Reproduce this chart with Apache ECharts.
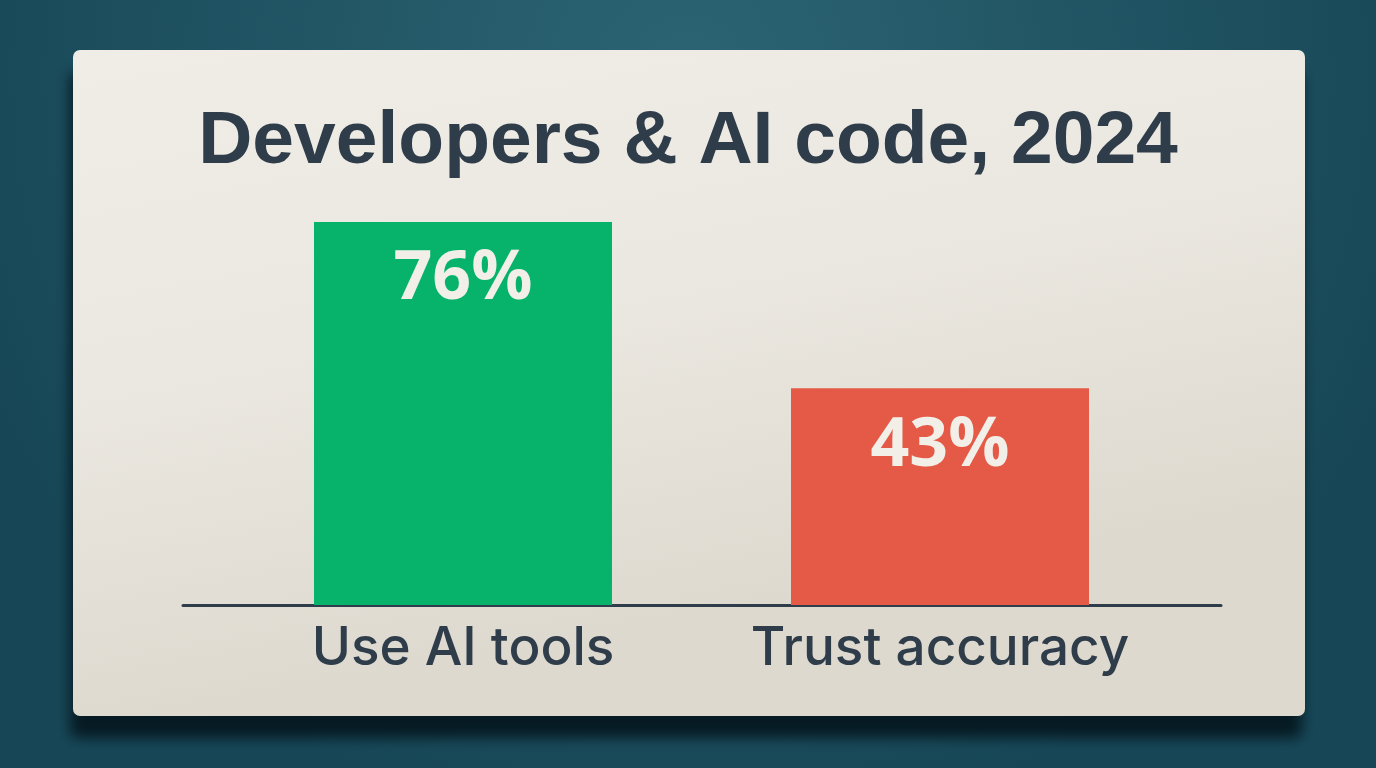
<!DOCTYPE html>
<html>
<head>
<meta charset="utf-8">
<script src="https://cdn.jsdelivr.net/npm/echarts@6/dist/echarts.min.js"></script>
<style>
html,body{margin:0;padding:0;width:1376px;height:768px;overflow:hidden;}
#chart{width:1376px;height:768px;}
</style>
</head>
<body>
<div id="chart"></div>
<script>
const titleText = "Developers & AI code, 2024";
const categories = ["Use AI tools", "Trust accuracy"];
const values = [76, 43];
const barColors = ["#07b36b", "#e55a47"];

const chart = echarts.init(document.getElementById('chart'), null, {renderer: 'canvas'});
const option = {
  animation: false,
  backgroundColor: {
    type: 'radial', x: 0.5, y: 0.1, r: 1.0,
    colorStops: [{offset: 0, color: '#2c6473'}, {offset: 1, color: '#174757'}]
  },
  graphic: [{
    type: 'rect', z: -10, silent: true,
    shape: {x: 73, y: 50, width: 1232, height: 666, r: 7},
    style: {
      fill: {type: 'linear', x: 0, y: 0, x2: 0.1, y2: 1,
        colorStops: [{offset: 0, color: '#f0ede7'}, {offset: 0.5, color: '#ebe8e1'}, {offset: 1, color: '#ddd9cf'}]},
      shadowBlur: 14, shadowOffsetY: 22, shadowOffsetX: -3, shadowColor: 'rgba(4,22,30,0.92)'
    }
  }],
  title: {
    text: titleText, left: 'center', top: 100,
    textStyle: {fontFamily: 'Liberation Sans', fontWeight: 'bold', fontSize: 75, color: '#2f3d4b'}
  },
  grid: [
    {left: 224.5, right: 197.5, top: 101, bottom: 163},
    {left: 183, right: 155, top: 101, bottom: 163}
  ],
  xAxis: [
    {type: 'category', gridIndex: 0, data: categories,
     axisLine: {show: false}, axisTick: {show: false},
     axisLabel: {interval: 0, hideOverlap: false, margin: 18, fontFamily: 'Inter', fontWeight: 500, fontSize: 53, color: '#2f3d4b'}},
    {type: 'value', gridIndex: 1, min: 0, max: 1,
     axisLine: {show: true, lineStyle: {color: '#2f3d4b', width: 3}},
     axisTick: {show: false}, axisLabel: {show: false}, splitLine: {show: false}}
  ],
  yAxis: [
    {type: 'value', gridIndex: 0, min: 0, max: 100, show: false},
    {type: 'value', gridIndex: 1, min: 0, max: 100, show: false}
  ],
  series: [{
    type: 'bar', xAxisIndex: 0, yAxisIndex: 0,
    barWidth: 298,
    data: values.map((v, i) => ({value: v, itemStyle: {color: barColors[i]}})),
    label: {
      show: true, position: 'insideTop', distance: 24,
      formatter: '{c}%',
      fontFamily: 'Open Sans', fontWeight: 'bold', fontSize: 68, color: '#f2efe8'
    }
  }]
};
chart.setOption(option);
</script>
</body>
</html>
